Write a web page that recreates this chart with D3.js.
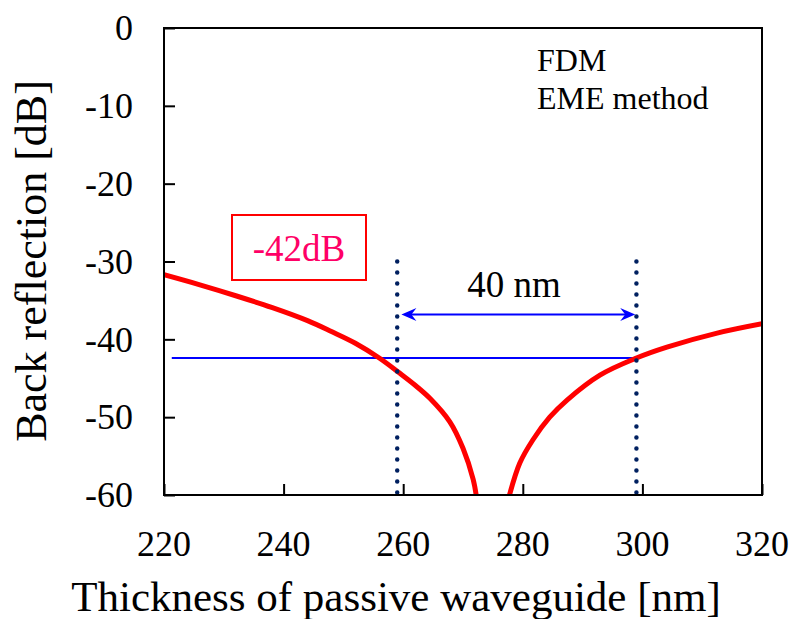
<!DOCTYPE html>
<html><head><meta charset="utf-8">
<script src="https://cdn.jsdelivr.net/npm/d3@7"></script>
<style>body{margin:0;background:#fff}svg{display:block}text{font-family:"Liberation Serif","Times New Roman",serif}</style>
</head><body>
<svg id="c" width="794" height="619"></svg>
<script>
const xTicks = [220, 240, 260, 280, 300, 320];
const yTicks = [0, -10, -20, -30, -40, -50, -60];
const leftX = [220, 226, 232, 238, 244, 248, 252, 256, 259.5, 262, 264.5, 267.8, 270, 271.7, 272.3];
const leftY = [-31.7, -33.0, -34.4, -35.9, -37.6, -39.0, -40.5, -42.4, -44.4, -45.9, -47.6, -50.6, -54.0, -58.0, -60.5];
const rightX = [277.6, 279.5, 281.7, 284.5, 287.4, 292.9, 299, 304.1, 312.5, 320];
const rightY = [-60.5, -55.9, -52.9, -50.0, -47.8, -44.6, -42.4, -41.0, -39.2, -38.0];
const markerX = [259, 299];
const markerY = [-30, -60];
const levelLine = {x: [221.3, 299], y: -42.4};
const spanArrow = {x: [259.7, 298.8], y: -36.8};
const labels = {x: "Thickness of passive waveguide [nm]", y: "Back reflection [dB]", level: "-42dB", span: "40 nm", m1: "FDM", m2: "EME method"};

const svg = d3.select("#c");
const L = 164, R = 762, T = 28, B = 495;
const x = d3.scaleLinear().domain([220, 320]).range([L, R]);
const y = d3.scaleLinear().domain([0, -60]).range([T, B]);

svg.append("defs").append("clipPath").attr("id", "pc")
  .append("rect").attr("x", L).attr("y", T).attr("width", R - L).attr("height", B - T);

// axes (inward ticks)
const xa = svg.append("g").attr("transform", `translate(0,${B})`)
  .call(d3.axisTop(x).tickValues(xTicks).tickSize(11).tickFormat(""));
const ya = svg.append("g").attr("transform", `translate(${L},0)`)
  .call(d3.axisRight(y).tickValues(yTicks).tickSize(11).tickFormat(""));
[xa, ya].forEach(g => { g.select(".domain").remove(); g.selectAll("line").attr("stroke", "#000").attr("stroke-width", 2); });

svg.selectAll(".xl").data(xTicks).join("text")
  .attr("x", d => x(d)).attr("y", 556).attr("text-anchor", "middle")
  .attr("font-size", 36).text(d => d);
svg.selectAll(".yl").data(yTicks).join("text")
  .attr("x", L - 31).attr("y", d => y(d)).attr("dy", "0.34em").attr("text-anchor", "end")
  .attr("font-size", 36).text(d => d);

// level line
svg.append("line").attr("x1", x(levelLine.x[0])).attr("x2", x(levelLine.x[1]))
  .attr("y1", y(levelLine.y)).attr("y2", y(levelLine.y))
  .attr("stroke", "#0000ff").attr("stroke-width", 2);

// curve
const line = d3.line().x(d => x(d[0])).y(d => y(d[1])).curve(d3.curveCatmullRom.alpha(0.5));
const g = svg.append("g").attr("clip-path", "url(#pc)");
[[leftX, leftY], [rightX, rightY]].forEach(([xs, ys]) => {
  g.append("path").attr("d", line(xs.map((v, i) => [v, ys[i]])))
    .attr("fill", "none").attr("stroke", "#ff0000").attr("stroke-width", 5);
});

// dotted markers
markerX.forEach(mx => {
  svg.append("line").attr("x1", x(mx)).attr("x2", x(mx))
    .attr("y1", y(markerY[0])).attr("y2", y(markerY[1]))
    .attr("stroke", "#002060").attr("stroke-width", 4.5)
    .attr("stroke-linecap", "round").attr("stroke-dasharray", "0,11");
});

// arrow
const ax1 = x(spanArrow.x[0]), ax2 = x(spanArrow.x[1]), ay = y(spanArrow.y);
svg.append("line").attr("x1", ax1 + 8).attr("x2", ax2 - 8).attr("y1", ay).attr("y2", ay)
  .attr("stroke", "#0000ff").attr("stroke-width", 2);
svg.append("path").attr("d", `M${ax1},${ay} L${ax1 + 15},${ay - 6.5} L${ax1 + 10},${ay} L${ax1 + 15},${ay + 6.5} Z`).attr("fill", "#0000ff");
svg.append("path").attr("d", `M${ax2},${ay} L${ax2 - 15},${ay - 6.5} L${ax2 - 10},${ay} L${ax2 - 15},${ay + 6.5} Z`).attr("fill", "#0000ff");
svg.append("text").attr("x", 514).attr("y", 297).attr("text-anchor", "middle")
  .attr("font-size", 37).text(labels.span);

// level label box
svg.append("rect").attr("x", 232).attr("y", 215).attr("width", 134).attr("height", 65)
  .attr("fill", "#fff").attr("stroke", "#ff0000").attr("stroke-width", 2);
svg.append("text").attr("x", 299).attr("y", 261).attr("text-anchor", "middle")
  .attr("font-size", 37).attr("fill", "#ff0066").text(labels.level);

// method text
svg.append("text").attr("x", 537).attr("y", 71).attr("font-size", 32).text(labels.m1);
svg.append("text").attr("x", 537).attr("y", 109).attr("font-size", 32).text(labels.m2);

// frame
svg.append("rect").attr("x", L).attr("y", T).attr("width", R - L).attr("height", B - T)
  .attr("fill", "none").attr("stroke", "#000").attr("stroke-width", 2);

// titles
svg.append("text").attr("x", 396).attr("y", 611).attr("text-anchor", "middle")
  .attr("font-size", 43).text(labels.x);
svg.append("text").attr("transform", `translate(46,261) rotate(-90)`).attr("text-anchor", "middle")
  .attr("font-size", 44).text(labels.y);
</script>
</body></html>
